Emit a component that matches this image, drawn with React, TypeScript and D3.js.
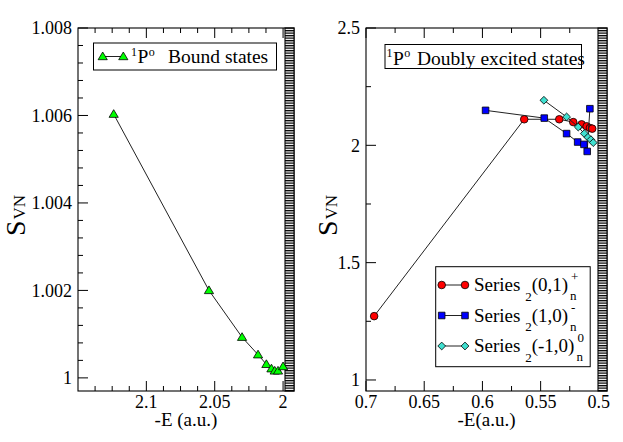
import * as d3 from "d3";
import { useRef, useEffect } from "react";

const WIDTH = 623;
const HEIGHT = 442;
const FONT = "Liberation Serif, Tinos, Times New Roman, DejaVu Serif, serif";

// left panel: 1Po bound states
const boundE = [2.1239, 2.0542, 2.03, 2.0183, 2.0122, 2.0085, 2.0061, 2.0037, 2.0];
const boundS = [1.00603, 1.002, 1.00093, 1.00053, 1.00031, 1.00021, 1.00016, 1.00016, 1.00026];

// right panel: doubly excited states, three series
const plusE = [0.693, 0.5641, 0.534, 0.522, 0.5148, 0.5105, 0.5077, 0.5057];
const plusS = [1.272, 2.111, 2.111, 2.099, 2.0895, 2.081, 2.074, 2.071];
const minusE = [0.5973, 0.5469, 0.5277, 0.5182, 0.5128, 0.51, 0.5077];
const minusS = [2.149, 2.116, 2.05, 2.014, 2.004, 1.974, 2.156];
const zeroE = [0.5472, 0.5277, 0.5177, 0.5125, 0.5094, 0.5068, 0.5048];
const zeroS = [2.192, 2.121, 2.078, 2.05, 2.034, 2.024, 2.0115];

const leftXTicks = [2.1, 2.05, 2];
const leftYTicks = [1, 1.002, 1.004, 1.006, 1.008];
const rightXTicks = [0.7, 0.65, 0.6, 0.55, 0.5];
const rightYTicks = [1, 1.5, 2, 2.5];

const seriesLabels = ["(0,1)", "(1,0)", "(-1,0)"];
const seriesSups = ["+", "-", "0"];

type Marker = "triangle" | "circle" | "square" | "diamond";

const drawMarker = (g: any, kind: Marker, x: number, y: number, fill: string) => {
  if (kind === "circle") {
    g.append("circle").attr("cx", x).attr("cy", y).attr("r", 3.8)
      .attr("fill", fill).attr("stroke", "#000").attr("stroke-width", 0.8);
    return;
  }
  let d = "";
  if (kind === "triangle") d = "M0,-4.5L4.6,3.2L-4.6,3.2Z";
  if (kind === "square") d = "M-3.3,-3.3H3.3V3.3H-3.3Z";
  if (kind === "diamond") d = "M0,-3.9L3.9,0L0,3.9L-3.9,0Z";
  g.append("path").attr("d", d).attr("transform", `translate(${x},${y})`)
    .attr("fill", fill).attr("stroke", "#000").attr("stroke-width", 0.8);
};

const drawPanel = (svg: any, cfg: any) => {
  const { x0, x1, y0, y1, xDomain, yDomain, xTicks, yTicks, xMinor, yMinor, xTitle, labelX } = cfg;
  const x = d3.scaleLinear().domain(xDomain).range([x0, x1]);
  const y = d3.scaleLinear().domain(yDomain).range([y1, y0]);
  const bandX = x1 - 9;
  const g = svg.append("g");

  // frame
  g.append("rect").attr("x", x0).attr("y", y0).attr("width", x1 - x0).attr("height", y1 - y0)
    .attr("fill", "white").attr("stroke", "#000").attr("stroke-width", 1.1);

  // ticks (inward) on left, bottom, top
  const tick = (v: number, len: number) => {
    const px = x(v);
    if (px >= bandX - 0.5) return;
    g.append("line").attr("x1", px).attr("x2", px).attr("y1", y1).attr("y2", y1 - len)
      .attr("stroke", "#000");
    g.append("line").attr("x1", px).attr("x2", px).attr("y1", y0).attr("y2", y0 + len)
      .attr("stroke", "#000");
  };
  xTicks.forEach((v: number) => tick(v, 10));
  xMinor.forEach((v: number) => tick(v, 5));
  yTicks.forEach((v: number) => {
    g.append("line").attr("x1", x0).attr("x2", x0 + 10).attr("y1", y(v)).attr("y2", y(v)).attr("stroke", "#000");
  });
  yMinor.forEach((v: number) => {
    g.append("line").attr("x1", x0).attr("x2", x0 + 5).attr("y1", y(v)).attr("y2", y(v)).attr("stroke", "#000");
  });

  // tick labels
  xTicks.forEach((v: number) => {
    g.append("text").attr("x", x(v)).attr("y", y1 + 17).attr("text-anchor", "middle")
      .attr("font-family", FONT).attr("font-size", 18).text(String(v));
  });
  yTicks.forEach((v: number) => {
    g.append("text").attr("x", x0 - 6).attr("y", y(v)).attr("dy", "0.35em").attr("text-anchor", "end")
      .attr("font-family", FONT).attr("font-size", 18).text(String(v));
  });

  // axis titles
  g.append("text").attr("x", (x0 + x1) / 2).attr("y", 426).attr("text-anchor", "middle")
    .attr("font-family", FONT).attr("font-size", 19).text(xTitle);
  const yl = g.append("text").attr("transform", `translate(${labelX},236) rotate(-90)`)
    .attr("font-family", FONT);
  yl.append("tspan").attr("font-size", 28).text("S");
  yl.append("tspan").attr("font-size", 17).attr("dx", 1).text("VN");

  // striped band on the right edge
  g.append("rect").attr("x", bandX).attr("y", y0).attr("width", x1 - bandX).attr("height", y1 - y0)
    .attr("fill", "url(#stripes)").attr("stroke", "#000").attr("stroke-width", 1.1);

  return { x, y, g };
};

const drawSeries = (g: any, x: any, y: any, es: number[], ss: number[], kind: Marker, fill: string) => {
  const pts = es.map((e, i) => [x(e), y(ss[i])] as [number, number]);
  g.append("path").attr("d", d3.line()(pts)).attr("fill", "none").attr("stroke", "#222").attr("stroke-width", 1);
  pts.forEach(([px, py]) => drawMarker(g, kind, px, py, fill));
};

const titleLegend = (g: any, bx: number, by: number, bw: number, bh: number, tx: number, restX: number, rest: string) => {
  g.append("rect").attr("x", bx).attr("y", by).attr("width", bw).attr("height", bh)
    .attr("fill", "white").attr("stroke", "#000").attr("stroke-width", 1);
  const t = g.append("text").attr("x", tx).attr("y", by + 20).attr("font-family", FONT).attr("font-size", 19.5);
  t.append("tspan").attr("font-size", 12).attr("dy", -7.5).text("1");
  t.append("tspan").attr("dy", 7.5).attr("dx", 0.5).text("P");
  t.append("tspan").attr("font-size", 12).attr("dy", -7.5).attr("dx", 0.5).text("o");
  t.append("tspan").attr("x", restX).attr("dy", 7.5).text(rest);
};

export default function App() {
  const svgRef = useRef(null);

  useEffect(() => {
    const svg = d3.select(svgRef.current);
    svg.selectAll("*").remove();

    const defs = svg.append("defs");
    const pat = defs.append("pattern").attr("id", "stripes").attr("patternUnits", "userSpaceOnUse")
      .attr("width", 10).attr("height", 2.5);
    pat.append("rect").attr("width", 10).attr("height", 2.5).attr("fill", "white");
    pat.append("rect").attr("width", 10).attr("height", 1.3).attr("fill", "#000");

    // left panel
    const L = drawPanel(svg, {
      x0: 78, x1: 294, y0: 28, y1: 391,
      xDomain: [2.15, 1.992], yDomain: [0.9997, 1.008],
      xTicks: leftXTicks, yTicks: leftYTicks,
      xMinor: d3.range(1, 12).map((i) => 2 + i * 0.0125).filter((v, i) => (i + 1) % 4 !== 0),
      yMinor: d3.range(0, 21).map((i) => 1 + i * 0.0004).filter((v, i) => i % 5 !== 0),
      xTitle: "-E (a.u.)", labelX: 25,
    });
    drawSeries(L.g, L.x, L.y, boundE, boundS, "triangle", "#00ff00");

    const lgL = L.g.append("g");
    titleLegend(lgL, 93.5, 43, 183, 27, 131, 168, "Bound states");
    lgL.append("line").attr("x1", 102.7).attr("x2", 123.3).attr("y1", 56.5).attr("y2", 56.5).attr("stroke", "#222");
    drawMarker(lgL, "triangle", 102.7, 56.5, "#00ff00");
    drawMarker(lgL, "triangle", 123.3, 56.5, "#00ff00");

    // right panel
    const R = drawPanel(svg, {
      x0: 366, x1: 607, y0: 28, y1: 391,
      xDomain: [0.7, 0.493], yDomain: [0.953, 2.5],
      xTicks: rightXTicks, yTicks: rightYTicks,
      xMinor: [0.675, 0.625, 0.575, 0.525],
      yMinor: [1.25, 1.75, 2.25],
      xTitle: "-E(a.u.)", labelX: 336.5,
    });
    drawSeries(R.g, R.x, R.y, plusE, plusS, "circle", "#ff0000");
    drawSeries(R.g, R.x, R.y, minusE, minusS, "square", "#0000ff");
    drawSeries(R.g, R.x, R.y, zeroE, zeroS, "diamond", "#40e0d0");

    const lgT = R.g.append("g");
    titleLegend(lgT, 385, 44.5, 196.5, 24, 386.5, 417, "Doubly excited states");

    const lgB = R.g.append("g");
    lgB.append("rect").attr("x", 435.7).attr("y", 266.7).attr("width", 154.5).attr("height", 100)
      .attr("fill", "white").attr("stroke", "#000").attr("stroke-width", 1);
    const kinds: Marker[] = ["circle", "square", "diamond"];
    const fills = ["#ff0000", "#0000ff", "#40e0d0"];
    [285, 315.5, 346].forEach((ry, i) => {
      lgB.append("line").attr("x1", 441.7).attr("x2", 465).attr("y1", ry).attr("y2", ry).attr("stroke", "#222");
      drawMarker(lgB, kinds[i], 441.7, ry, fills[i]);
      drawMarker(lgB, kinds[i], 465, ry, fills[i]);
      const t = lgB.append("text").attr("x", 474).attr("y", ry + 6).attr("font-family", FONT).attr("font-size", 19);
      t.append("tspan").text("Series ");
      t.append("tspan").attr("font-size", 13).attr("dy", 9.5).text("2");
      t.append("tspan").attr("dy", -9.5).text(seriesLabels[i]);
      const end = 474 + (t.node() as SVGTextElement).getComputedTextLength();
      lgB.append("text").attr("x", end + 3).attr("y", ry - 4).attr("font-family", FONT).attr("font-size", 13)
        .text(seriesSups[i]);
      lgB.append("text").attr("x", end + 2).attr("y", ry + 15).attr("font-family", FONT).attr("font-size", 13)
        .text("n");
    });
  }, []);

  return (
    <svg ref={svgRef} width={WIDTH} height={HEIGHT}
      style={{ position: "absolute", left: 0, top: 0, background: "white" }} />
  );
}
